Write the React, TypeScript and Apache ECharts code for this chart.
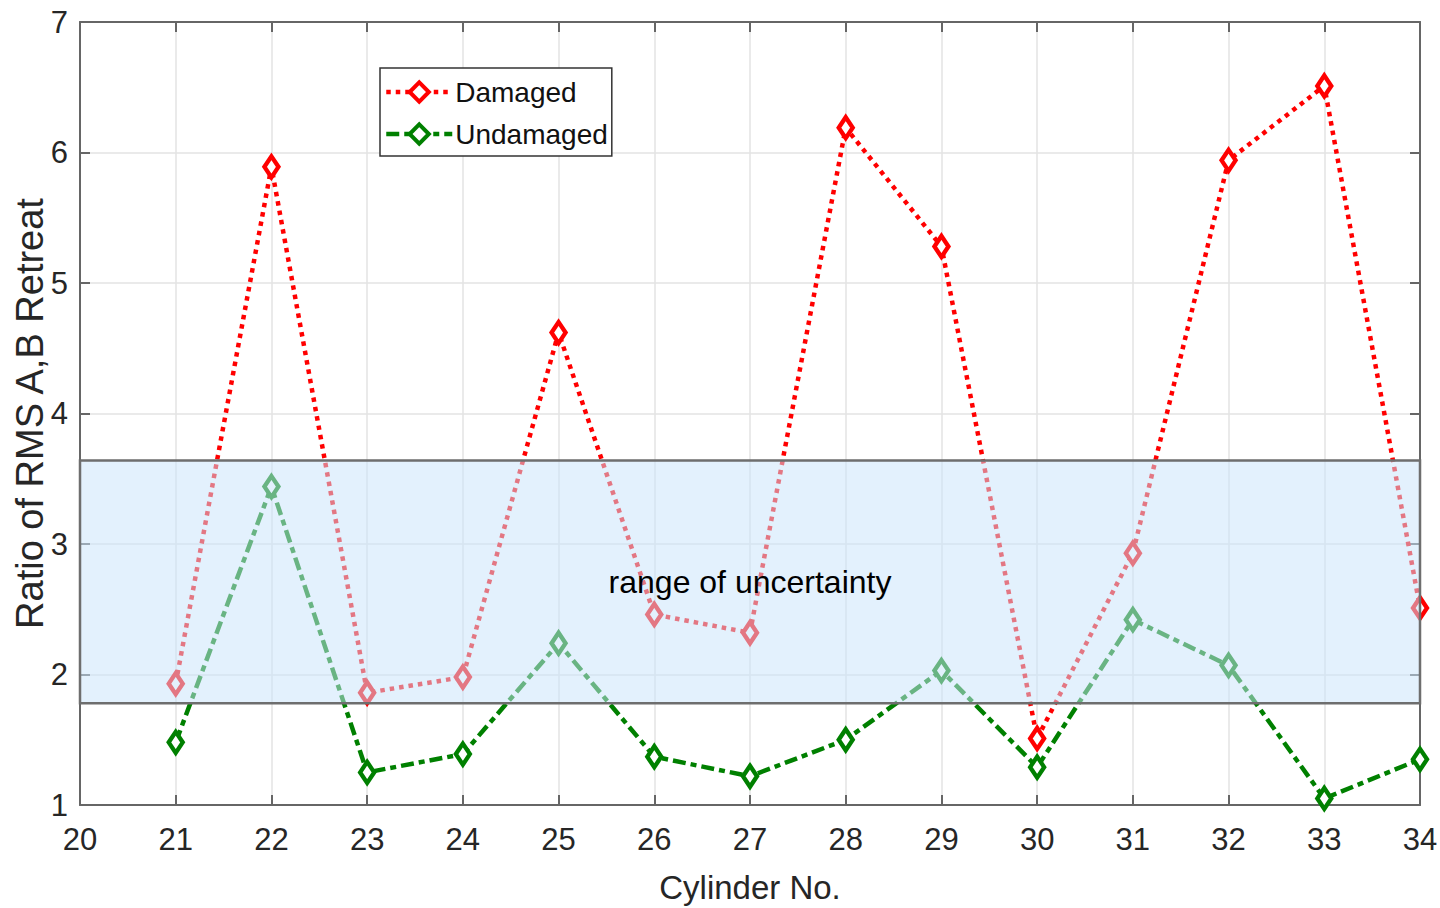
import React, { useEffect, useRef } from "react";
import * as echarts from "echarts";

// Cylinder numbers along the x axis
const cylinders = [21, 22, 23, 24, 25, 26, 27, 28, 29, 30, 31, 32, 33, 34];

// Ratio of RMS A,B retreat for each cylinder
const damaged = [1.93, 5.89, 1.86, 1.98, 4.62, 2.46, 2.32, 6.19, 5.28, 1.51, 2.93, 5.94, 6.51, 2.51];
const undamaged = [1.48, 3.44, 1.25, 1.39, 2.24, 1.37, 1.22, 1.5, 2.03, 1.29, 2.42, 2.07, 1.05, 1.35];

// Band marking the range of uncertainty
const uncertaintyBand = [1.78, 3.64];

const FONT = '"Liberation Sans", Arial, Helvetica, sans-serif';
const TEXT = "#262626";
const AXIS = "#666666";

export default function App() {
  const ref = useRef<HTMLDivElement>(null);

  useEffect(() => {
    if (!ref.current) return;
    const chart = echarts.init(ref.current, null, { renderer: "svg" });

    const axisCommon = {
      type: "value" as const,
      interval: 1,
      axisLine: { show: true, onZero: false, lineStyle: { color: AXIS, width: 2 } },
      axisTick: { show: true, inside: true, length: 10, lineStyle: { color: AXIS, width: 2 } },
    };

    chart.setOption({
      animation: false,
      backgroundColor: "#ffffff",
      textStyle: { fontFamily: FONT, color: TEXT },
      grid: {
        left: 80,
        right: 20,
        top: 22,
        bottom: 103,
        containLabel: false,
        outerBoundsMode: "none",
      },
      legend: {
        left: 380,
        top: 68,
        orient: "vertical",
        backgroundColor: "#ffffff",
        borderColor: "#333333",
        borderWidth: 1.5,
        borderRadius: 0,
        padding: [10, 4, 8, 4],
        itemGap: 14,
        itemWidth: 66,
        itemHeight: 24,
        itemStyle: { borderWidth: 4 },
        lineStyle: { width: 4.5 },
        textStyle: { fontFamily: FONT, fontSize: 28, color: "#111111", padding: [0, 0, 0, -2] },
        data: ["Damaged", "Undamaged"],
      },
      xAxis: [
        {
          ...axisCommon,
          min: 20,
          max: 34,
          name: "Cylinder No.",
          nameLocation: "middle",
          nameGap: 66,
          nameTextStyle: { fontFamily: FONT, fontSize: 33, color: TEXT },
          axisLabel: { fontFamily: FONT, fontSize: 31, color: TEXT, margin: 19 },
          splitLine: { show: true, lineStyle: { color: "#e3e3e3", width: 1.5 } },
        },
        {
          ...axisCommon,
          min: 20,
          max: 34,
          position: "top",
          axisLabel: { show: false },
          splitLine: { show: false },
        },
      ],
      yAxis: [
        {
          ...axisCommon,
          min: 1,
          max: 7,
          name: "Ratio of RMS A,B Retreat",
          nameLocation: "middle",
          nameGap: 31,
          nameMoveOverlap: false,
          nameTextStyle: { fontFamily: FONT, fontSize: 38, color: TEXT },
          axisLabel: { fontFamily: FONT, fontSize: 31, color: TEXT, margin: 12 },
          splitLine: { show: true, lineStyle: { color: "#e3e3e3", width: 1.5 } },
        },
        {
          ...axisCommon,
          min: 1,
          max: 7,
          position: "right",
          axisLabel: { show: false },
          splitLine: { show: false },
        },
      ],
      series: [
        {
          name: "Damaged",
          type: "line",
          z: 2,
          data: cylinders.map((c, i) => [c, damaged[i]]),
          symbol: "diamond",
          symbolSize: [14, 21],
          showAllSymbol: true,
          lineStyle: { color: "#ff0000", width: 4.5, type: [4.5, 5], cap: "butt" },
          itemStyle: { color: "#ffffff", borderColor: "#ff0000", borderWidth: 4.5 },
        },
        {
          name: "Undamaged",
          type: "line",
          z: 2,
          data: cylinders.map((c, i) => [c, undamaged[i]]),
          symbol: "diamond",
          symbolSize: [14, 21],
          showAllSymbol: true,
          lineStyle: { color: "#008000", width: 4.5, type: [13, 5, 6, 5], cap: "butt" },
          itemStyle: { color: "#ffffff", borderColor: "#008000", borderWidth: 4.5 },
        },
        {
          name: "band",
          type: "line",
          z: 5,
          data: [],
          silent: true,
          markArea: {
            silent: true,
            z: 10,
            itemStyle: {
              color: "rgba(201, 228, 251, 0.52)",
              borderColor: "#6e6e6e",
              borderWidth: 2.5,
            },
            label: {
              show: true,
              position: "inside",
              fontFamily: FONT,
              fontSize: 32,
              color: "#000000",
            },
            data: [
              [
                { name: "range of uncertainty", xAxis: 20, yAxis: uncertaintyBand[1] },
                { xAxis: 34, yAxis: uncertaintyBand[0] },
              ],
            ],
          },
        },
      ],
    });

    return () => chart.dispose();
  }, []);

  return (
    <div
      ref={ref}
      style={{ position: "fixed", left: 0, top: 0, width: 1440, height: 908, background: "#fff" }}
    />
  );
}
